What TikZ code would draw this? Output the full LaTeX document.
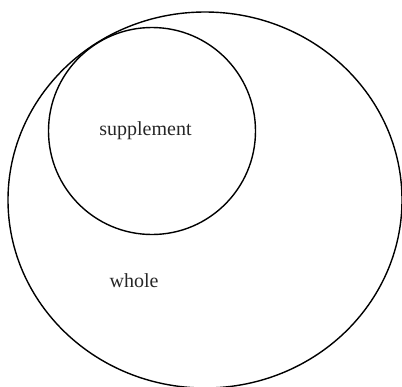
\documentclass[tikz,border=0pt]{standalone}
\usepackage{fontspec}
\setmainfont{Liberation Serif}
\usetikzlibrary{shapes.geometric}
\begin{document}
\begin{tikzpicture}[x=1pt,y=-1pt,
  setline/.style={draw=black, line width=1.4pt, ellipse, inner sep=0pt},
  lbl/.style={font=\fontsize{20}{23}\selectfont, anchor=base, text=black!85}]
\useasboundingbox (0,0) rectangle (402,386);
\node[setline, minimum width=394pt, minimum height=376pt] (whole) at (205,200) {};
\node[setline, minimum width=207pt, minimum height=207pt] (supp) at (152,131) {};
\node[lbl] (supplabel) at (145.5,135) {supplement};
\node[lbl] (wholelabel) at (134,287) {whole};
\end{tikzpicture}
\end{document}
